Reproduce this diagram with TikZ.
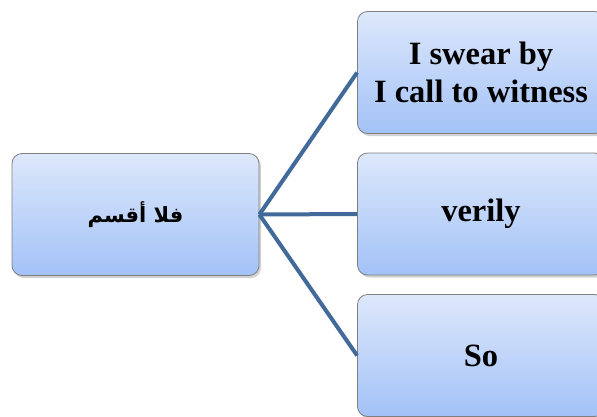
\documentclass[tikz,border=0pt]{standalone}
\usepackage{fontspec}
\setmainfont{Liberation Serif}
\newfontfamily\arabicfont[Script=Arabic]{DejaVu Sans}
\TeXXeTstate=1
\usetikzlibrary{shadows}
\definecolor{boxtop}{HTML}{DDE8FB}
\definecolor{boxbot}{HTML}{A3C2F7}
\definecolor{boxline}{HTML}{7F7F7F}
\definecolor{linkcol}{HTML}{41699A}
\tikzset{
  box/.style={draw=boxline, line width=0.8pt, rounded corners=10pt,
    top color=boxtop, bottom color=boxbot, align=center,
    minimum width=247pt, minimum height=122pt, inner sep=0pt,
    drop shadow={shadow xshift=2pt, shadow yshift=-2.5pt, opacity=0.35},
    font=\fontsize{32.5}{38}\selectfont\bfseries},
  link/.style={draw=linkcol, line width=4pt}
}
\begin{document}
\begin{tikzpicture}[x=1pt,y=-1pt]
\useasboundingbox (0,0) rectangle (597,416);
\clip (0,0) rectangle (597,416);
\fill[white] (0,0) rectangle (597,416);
\node[box] (src) at (135.5,214.5) {\arabicfont\fontsize{21}{26}\selectfont\bfseries\beginR فلا أقسم\endR};
\node[box] (a) at (481,72.5) {I swear by\\I call to witness};
\node[box] (b) at (481,214) {verily};
\node[box] (c) at (481,355.5) {So};
\draw[link] (src.east) -- (a.west);
\draw[link] (src.east) -- (b.west);
\draw[link] (src.east) -- (c.west);
\end{tikzpicture}
\end{document}
